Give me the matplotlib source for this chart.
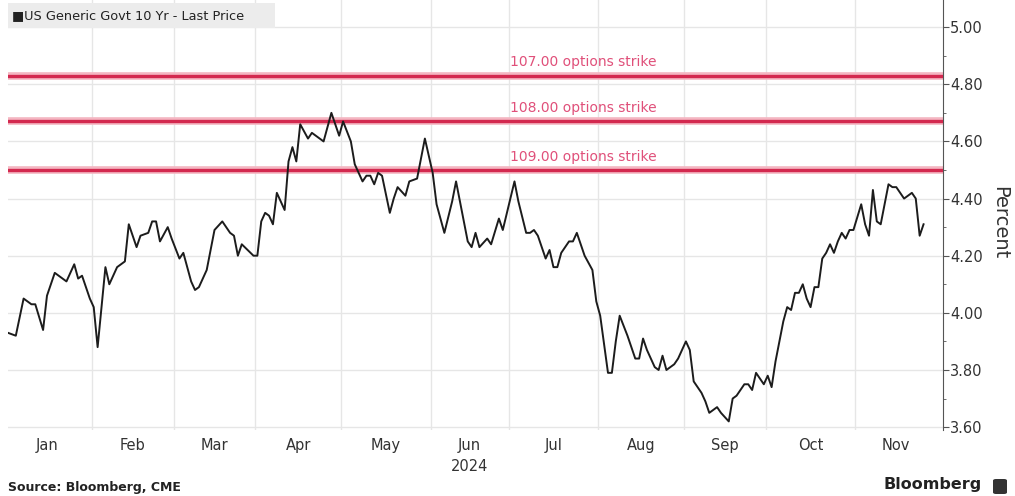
import matplotlib
matplotlib.use("Agg")
import matplotlib.pyplot as plt
import matplotlib.transforms as mtransforms
from matplotlib.patches import Rectangle, FancyBboxPatch
from matplotlib.ticker import FormatStrFormatter, MultipleLocator
import numpy as np
import pandas as pd

# US 10y generic yield, 2024 (turning points of the daily series)
dates = [
    "2024-01-02", "2024-01-04", "2024-01-08", "2024-01-10", "2024-01-11", "2024-01-15",
    "2024-01-16", "2024-01-18", "2024-01-23", "2024-01-25", "2024-01-26", "2024-01-29",
    "2024-01-31", "2024-02-01", "2024-02-02", "2024-02-06", "2024-02-07", "2024-02-09",
    "2024-02-12", "2024-02-13", "2024-02-14", "2024-02-16", "2024-02-19", "2024-02-21",
    "2024-02-22", "2024-02-23", "2024-02-26", "2024-02-28", "2024-02-29", "2024-03-04",
    "2024-03-05", "2024-03-07", "2024-03-08", "2024-03-11", "2024-03-13", "2024-03-15",
    "2024-03-19", "2024-03-21", "2024-03-22", "2024-03-25", "2024-03-26", "2024-03-29",
    "2024-04-01", "2024-04-02", "2024-04-03", "2024-04-04", "2024-04-05", "2024-04-08",
    "2024-04-10", "2024-04-11", "2024-04-12", "2024-04-15", "2024-04-16", "2024-04-18",
    "2024-04-19", "2024-04-22", "2024-04-24", "2024-04-26", "2024-04-30", "2024-05-01",
    "2024-05-03", "2024-05-06", "2024-05-08", "2024-05-09", "2024-05-10", "2024-05-13",
    "2024-05-14", "2024-05-15", "2024-05-17", "2024-05-20", "2024-05-21", "2024-05-23",
    "2024-05-24", "2024-05-28", "2024-05-30", "2024-05-31", "2024-06-03", "2024-06-04",
    "2024-06-06", "2024-06-10", "2024-06-11", "2024-06-12", "2024-06-14", "2024-06-17",
    "2024-06-18", "2024-06-19", "2024-06-21", "2024-06-24", "2024-06-26", "2024-06-27",
    "2024-07-02", "2024-07-03", "2024-07-05", "2024-07-08", "2024-07-09", "2024-07-10",
    "2024-07-12", "2024-07-15", "2024-07-16", "2024-07-17", "2024-07-18", "2024-07-22",
    "2024-07-23", "2024-07-24", "2024-07-26", "2024-07-30", "2024-07-31", "2024-08-01",
    "2024-08-05", "2024-08-06", "2024-08-07", "2024-08-08", "2024-08-12", "2024-08-14",
    "2024-08-15", "2024-08-16", "2024-08-19", "2024-08-21", "2024-08-22", "2024-08-23",
    "2024-08-26", "2024-08-28", "2024-08-29", "2024-09-02", "2024-09-03", "2024-09-04",
    "2024-09-06", "2024-09-09", "2024-09-10", "2024-09-12", "2024-09-13", "2024-09-17",
    "2024-09-18", "2024-09-19", "2024-09-23", "2024-09-24", "2024-09-25", "2024-09-26",
    "2024-09-27", "2024-09-30", "2024-10-01", "2024-10-02", "2024-10-03", "2024-10-07",
    "2024-10-08", "2024-10-09", "2024-10-10", "2024-10-11", "2024-10-14", "2024-10-15",
    "2024-10-16", "2024-10-17", "2024-10-18", "2024-10-21", "2024-10-22", "2024-10-23",
    "2024-10-24", "2024-10-25", "2024-10-28", "2024-10-29", "2024-10-30", "2024-10-31",
    "2024-11-04", "2024-11-05", "2024-11-06", "2024-11-07", "2024-11-08", "2024-11-11",
    "2024-11-13", "2024-11-14", "2024-11-15", "2024-11-19", "2024-11-21", "2024-11-22",
    "2024-11-25", "2024-11-26",
]
yields = [
    3.93, 3.92, 4.05, 4.03, 4.03, 3.94, 4.06, 4.14, 4.11, 4.17, 4.12, 4.13,
    4.05, 4.02, 3.88, 4.16, 4.10, 4.16, 4.17, 4.18, 4.31, 4.23, 4.27, 4.28,
    4.32, 4.32, 4.25, 4.30, 4.26, 4.19, 4.21, 4.11, 4.08, 4.09, 4.15, 4.29,
    4.32, 4.28, 4.27, 4.20, 4.24, 4.20, 4.20, 4.32, 4.35, 4.34, 4.31, 4.42,
    4.36, 4.53, 4.58, 4.53, 4.66, 4.61, 4.63, 4.62, 4.60, 4.70, 4.62, 4.67,
    4.60, 4.52, 4.46, 4.48, 4.48, 4.45, 4.49, 4.48, 4.35, 4.40, 4.44, 4.41,
    4.46, 4.47, 4.61, 4.55, 4.49, 4.38, 4.28, 4.39, 4.46, 4.39, 4.25, 4.23,
    4.28, 4.23, 4.26, 4.24, 4.33, 4.29, 4.46, 4.39, 4.28, 4.28, 4.29, 4.27,
    4.19, 4.22, 4.16, 4.16, 4.21, 4.25, 4.25, 4.28, 4.20, 4.15, 4.04, 3.99,
    3.79, 3.79, 3.90, 3.99, 3.92, 3.84, 3.84, 3.91, 3.87, 3.81, 3.80, 3.85,
    3.80, 3.82, 3.84, 3.90, 3.87, 3.76, 3.72, 3.69, 3.65, 3.67, 3.65, 3.62,
    3.70, 3.71, 3.75, 3.75, 3.73, 3.79, 3.77, 3.75, 3.78, 3.74, 3.83, 3.97,
    4.02, 4.01, 4.07, 4.07, 4.10, 4.05, 4.02, 4.09, 4.09, 4.19, 4.21, 4.24,
    4.21, 4.25, 4.28, 4.26, 4.29, 4.29, 4.38, 4.31, 4.27, 4.43, 4.32, 4.31,
    4.45, 4.44, 4.44, 4.40, 4.42, 4.40, 4.27, 4.31,
]

strike_labels = ["107.00 options strike", "108.00 options strike", "109.00 options strike"]
strike_levels = [4.83, 4.67, 4.50]
month_labels = ["Jan", "Feb", "Mar", "Apr", "May", "Jun", "Jul", "Aug", "Sep", "Oct", "Nov"]

# trading-day axis: weekdays only
bdays = pd.bdate_range("2024-01-01", "2024-11-29")
pos = bdays.get_indexer(pd.to_datetime(dates))
month_start = [bdays.searchsorted(pd.Timestamp(2024, m, 1)) for m in range(1, 13)]

fig = plt.figure(figsize=(10.15, 4.96), dpi=100)
ax = fig.add_axes([0.0079, 0.1331, 0.9212, 0.8669])
ax.set_xlim(1, 241)
ax.set_ylim(3.59, 5.095)

# grid
ax.yaxis.grid(True, which="major", color="#e6e6e6", lw=1.0)
for m in month_start[1:11]:
    ax.axvline(m - 0.5, color="#e6e6e6", lw=1.0, zorder=0)
ax.set_axisbelow(True)

# strike levels
trans = mtransforms.blended_transform_factory(ax.transAxes, ax.transData)
for lvl, lab in zip(strike_levels, strike_labels):
    ax.axhline(lvl, color="#f4b6c2", lw=5.5, zorder=2)
    ax.axhline(lvl, color="#d3294f", lw=2.4, zorder=3)
    ax.text(0.615, lvl + 0.022, lab, transform=trans, ha="center", va="bottom",
            color="#e0507a", fontsize=10)

ax.plot(pos, yields, color="#1c1c1c", lw=1.4, zorder=4)

# axes styling
for side in ["top", "left", "bottom"]:
    ax.spines[side].set_visible(False)
ax.spines["right"].set_color("#555555")
ax.yaxis.tick_right()
ax.set_yticks(np.arange(3.6, 5.01, 0.2))
ax.yaxis.set_minor_locator(MultipleLocator(0.1))
ax.yaxis.set_major_formatter(FormatStrFormatter("%.2f"))
ax.tick_params(axis="y", which="major", direction="out", length=4, color="#555555",
               labelsize=10.5, labelcolor="#333333", pad=1)
ax.tick_params(axis="y", which="minor", direction="out", length=2.5, color="#555555")

mids = [(month_start[i] + month_start[i + 1] - 1) / 2 for i in range(11)]
ax.set_xticks(mids)
ax.set_xticklabels(month_labels)
ax.tick_params(axis="x", length=0, labelsize=10.5, labelcolor="#333333", pad=6)
ax.text(mids[5], -0.085, "2024", transform=mtransforms.blended_transform_factory(ax.transData, ax.transAxes),
        ha="center", va="center", fontsize=10.5, color="#333333")

fig.text(0.985, 0.552, "Percent", rotation=270, ha="center", va="center",
         fontsize=14, color="#333333")

# series key box
W, H = 1015, 496
fig.patches.append(Rectangle((8 / W, 1 - 28 / H), 267 / W, 25 / H, transform=fig.transFigure,
                             facecolor="#ececec", edgecolor="none", zorder=5))
fig.text(12 / W, 1 - 16 / H, "\u25a0US Generic Govt 10 Yr - Last Price", ha="left", va="center",
         fontsize=9.3, color="#222222", zorder=6)

# footer
fig.text(8 / W, 1 - 487 / H, "Source: Bloomberg, CME", ha="left", va="center",
         fontsize=9, fontweight="bold", color="#222222")
fig.text(982 / W, 1 - 485 / H, "Bloomberg", ha="right", va="center",
         fontsize=11.5, fontweight="bold", color="#222222")
fig.patches.append(FancyBboxPatch((993 / W, 1 - 494 / H), 14 / W, 15 / H,
                                  boxstyle="round,pad=0,rounding_size=0.003",
                                  transform=fig.transFigure, facecolor="#333333",
                                  edgecolor="none"))

fig.savefig("out.png", dpi=100)
